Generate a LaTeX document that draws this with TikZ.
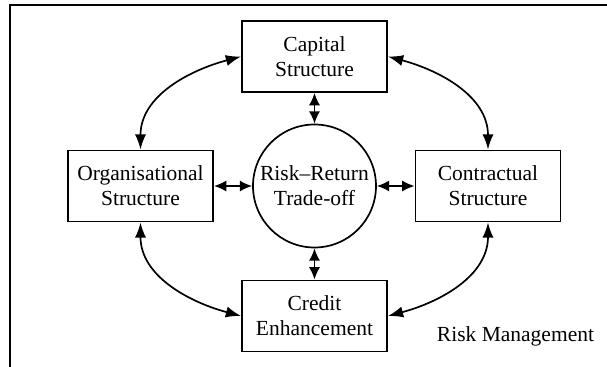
\documentclass[tikz,border=0pt]{standalone}
\usepackage{fontspec}
\setmainfont{Liberation Serif}
\usepackage{tikz}
\usetikzlibrary{arrows.meta}

\begin{document}
\begin{tikzpicture}[
  box/.style={draw, line width=1.4pt, minimum width=3.625cm, minimum height=1.775cm, align=center, inner sep=0pt},
  hub/.style={circle, draw, line width=1.2pt, minimum size=3.075cm, align=center, inner sep=0pt},
  link/.style={line width=1.2pt, {Latex[length=0.38cm,width=0.28cm]}-{Latex[length=0.38cm,width=0.28cm]}},
  spoke/.style={line width=1.2pt, {Latex[length=0.31cm,width=0.28cm]}-{Latex[length=0.31cm,width=0.28cm]}},
  font=\fontsize{15.3}{17.8}\selectfont
]
\useasboundingbox (-7.8625,-4.525) rectangle (7.3125,4.65);
% Frame
\draw[line width=1.4pt] (7.4,4.525) -- (-7.6125,4.525) -- (-7.6125,-4.7);
% Centre
\node[hub] (hub) at (0,0) {Risk--Return\\Trade-off};
% Structures
\node[box] (cap) at (0,3.2375) {Capital\\Structure};
\node[box] (org) at (-4.35,0) {Organisational\\Structure};
\node[box] (con) at (4.3375,0) {Contractual\\Structure};
\node[box] (cre) at (0,-3.25) {Credit\\Enhancement};
\node[anchor=base] (risk) at (5.025,-3.875) {Risk Management};

% Links to the centre
\draw[spoke] (cap) -- (hub);
\draw[spoke] (org) -- (hub);
\draw[spoke] (con) -- (hub);
\draw[spoke] (cre) -- (hub);

% Outer ring
\draw[link] (cap.west) to[out=195, in=90] (org.north);
\draw[link] (cap.east) to[out=-15, in=90] (con.north);
\draw[link] (cre.west) to[out=165, in=-90] (org.south);
\draw[link] (cre.east) to[out=15, in=-90] (con.south);
\end{tikzpicture}
\end{document}
